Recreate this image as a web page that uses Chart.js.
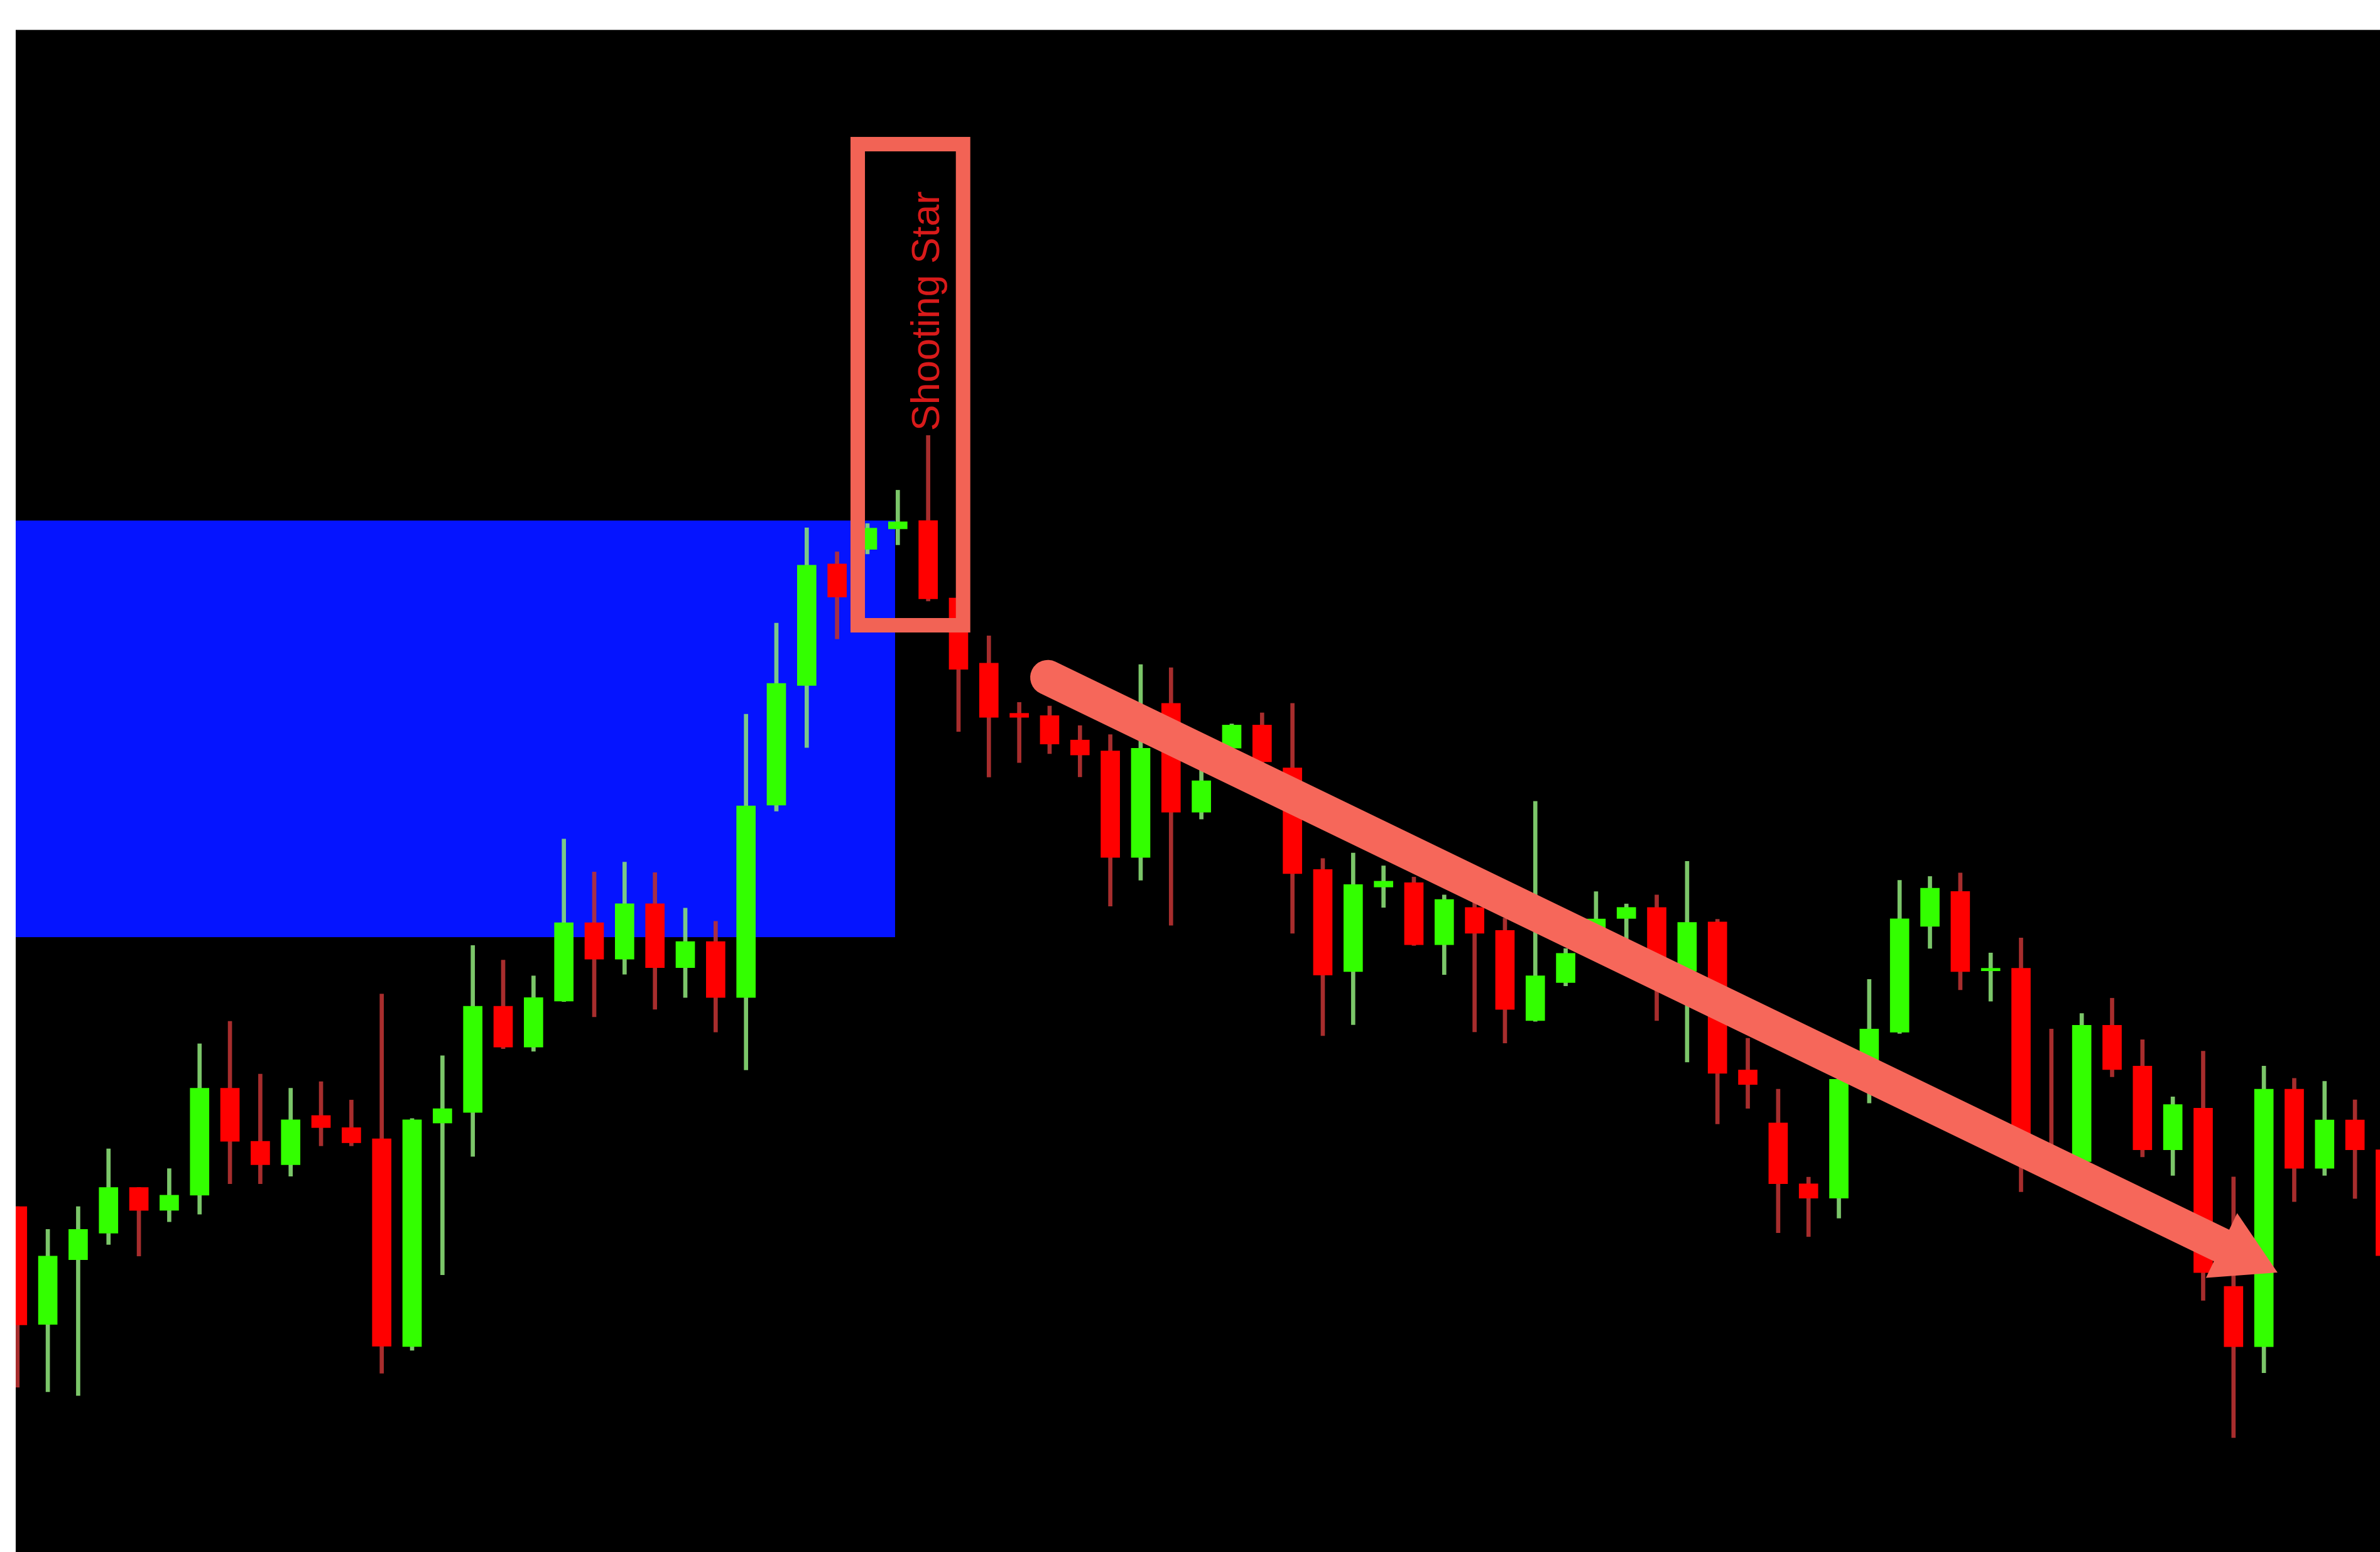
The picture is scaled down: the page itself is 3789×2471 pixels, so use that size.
<!DOCTYPE html>
<html>
<head>
<meta charset="utf-8">
<title>Shooting Star</title>
<script src="https://cdn.jsdelivr.net/npm/chart.js@4.4.1/dist/chart.umd.min.js"></script>
<style>
	html, body { margin: 0; padding: 0; background: #ffffff; }
	canvas { display: block; }
</style>
</head>
<body>
<canvas id="candleChart" width="3789" height="2471"></canvas>
<script>
// daily candles (one entry per session, left to right)
const opens = [
	40.5, 32.73, 37.0, 38.75, 41.76, 40.25, 41.25, 48.3, 44.8, 43.26,
	46.5, 45.7, 44.97, 31.28, 46.0, 46.7, 53.7, 51.0, 54.04, 59.2,
	56.8, 60.45, 56.24, 57.96, 54.27, 66.95, 74.83, 82.84, 83.8, 85.15,
	85.7, 80.6, 76.3, 73.0, 72.85, 71.24, 70.52, 63.5, 73.66, 66.48,
	70.7, 72.23, 69.4, 62.71, 55.98, 61.55, 61.84, 57.75, 60.21, 58.7,
	52.75, 55.26, 58.81, 59.48, 60.21, 56.0, 59.25, 49.5, 46.01, 42.0,
	41.05, 49.7, 51.99, 58.96, 61.26, 56.03, 56.2, 44.2, 43.46, 52.45,
	49.76, 44.24, 46.98, 35.24, 31.27, 48.24, 43.02, 46.21, 44.24,
];
const highs = [
	40.5, 39.0, 40.5, 44.3, 41.76, 43.0, 51.23, 52.7, 49.23, 48.3,
	48.73, 47.52, 54.5, 46.3, 50.44, 57.7, 56.74, 55.7, 64.72, 62.54,
	63.2, 62.5, 60.16, 59.3, 72.94, 78.94, 85.22, 83.64, 85.5, 87.7,
	91.3, 80.7, 78.1, 73.72, 73.48, 72.19, 71.6, 76.21, 76.0, 69.5,
	72.3, 73.03, 73.66, 63.43, 63.8, 62.95, 62.21, 61.03, 61.0, 59.5,
	67.2, 57.5, 61.25, 60.44, 61.03, 63.25, 59.43, 51.59, 48.24, 42.44,
	49.5, 55.47, 62.0, 62.25, 62.48, 57.21, 58.2, 52.2, 53.22, 54.23,
	51.49, 47.73, 50.74, 42.45, 49.76, 48.95, 48.75, 47.53, 45.0,
];
const lows = [
	28.6, 28.3, 28.05, 38.0, 37.24, 39.5, 40.0, 42.0, 42.0, 42.5,
	44.5, 44.5, 29.52, 31.03, 36.0, 43.8, 50.9, 50.73, 54.0, 53.0,
	55.8, 53.5, 54.27, 52.0, 49.5, 66.55, 70.74, 77.9, 83.5, 84.1,
	80.4, 71.8, 68.8, 69.75, 70.34, 68.81, 60.29, 62.0, 59.03, 66.03,
	70.3, 69.0, 58.5, 51.76, 52.48, 60.21, 57.7, 55.78, 52.01, 51.27,
	52.7, 55.04, 58.2, 57.92, 52.75, 50.02, 45.95, 46.97, 38.78, 38.52,
	39.74, 47.32, 51.9, 57.51, 54.78, 54.03, 41.48, 42.2, 43.3, 49.05,
	43.77, 42.55, 34.32, 25.28, 29.55, 40.82, 42.55, 41.03, 37.0,
];
const closes = [
	32.7, 37.24, 39.0, 41.76, 40.25, 41.25, 48.3, 44.8, 43.26, 46.22,
	45.7, 44.7, 31.3, 46.22, 46.95, 53.7, 51.0, 54.27, 59.2, 56.8,
	60.45, 56.24, 57.96, 54.27, 66.9, 74.97, 82.76, 80.66, 85.2, 85.62,
	80.54, 75.9, 72.73, 72.73, 70.97, 70.25, 63.5, 70.7, 66.48, 68.55,
	72.23, 69.8, 62.44, 55.75, 61.72, 61.94, 57.75, 60.73, 58.51, 53.49,
	55.71, 57.18, 59.45, 60.21, 56.0, 59.22, 49.28, 48.54, 42.0, 41.05,
	48.89, 52.2, 59.46, 61.48, 55.98, 56.2, 45.23, 42.4, 52.45, 49.52,
	44.24, 47.22, 36.15, 31.27, 48.24, 43.02, 46.21, 44.24, 37.27,
];

// annotations, in session / price units
const zoneSessions = [-1, 28.91];
const zonePrices = [58.25, 85.7];
const boxSessions = [27.68, 31.15];
const boxPrices = [78.8, 110.5];
const patternLabel = 'Shooting Star';
const labelAt = [30, 99.5];
const arrowFrom = [33.94, 75.36];
const arrowTo = [72.6, 37.94];
const arrowHead = [73.22, 37.34];

const UP_BODY = '#33ff00';
const DOWN_BODY = '#ff0000';
const UP_WICK = 'rgba(140, 225, 120, 0.88)';
const DOWN_WICK = 'rgba(185, 50, 50, 0.9)';
const SALMON = '#f6675a';

const isUp = (i) => closes[i] >= opens[i];

const wickData = lows.map((l, i) => ({ x: i, y: [l, highs[i]] }));
const bodyData = opens.map((o, i) => ({ x: i, y: [o, closes[i]] }));

const backdrop = {
	id: 'backdrop',
	beforeDraw (chart) {
		const { ctx, chartArea: a } = chart;
		ctx.save();
		ctx.fillStyle = '#ffffff';
		ctx.fillRect(0, 0, chart.width, chart.height);
		ctx.fillStyle = '#9a9a9a';
		ctx.fillRect(a.left, a.top - 1, a.right - a.left, 2);
		ctx.fillStyle = '#000000';
		ctx.fillRect(a.left, a.top, a.right - a.left, a.bottom - a.top);
		ctx.restore();
	},
	beforeDatasetsDraw (chart) {
		const { ctx, chartArea: a, scales: { x, y } } = chart;
		ctx.save();
		ctx.beginPath();
		ctx.rect(a.left, a.top, a.right - a.left, a.bottom - a.top);
		ctx.clip();
		const x0 = x.getPixelForValue(zoneSessions[0]);
		const x1 = x.getPixelForValue(zoneSessions[1]);
		const y0 = y.getPixelForValue(zonePrices[1]);
		const y1 = y.getPixelForValue(zonePrices[0]);
		ctx.fillStyle = '#0514ff';
		ctx.fillRect(x0, y0, x1 - x0, y1 - y0);
		ctx.restore();
	},
};

const patternBox = {
	id: 'patternBox',
	afterDatasetsDraw (chart) {
		const { ctx, scales: { x, y } } = chart;
		const x0 = x.getPixelForValue(boxSessions[0]);
		const x1 = x.getPixelForValue(boxSessions[1]);
		const y0 = y.getPixelForValue(boxPrices[1]);
		const y1 = y.getPixelForValue(boxPrices[0]);
		ctx.save();
		ctx.strokeStyle = '#f26355';
		ctx.lineWidth = 23;
		ctx.strokeRect(x0, y0, x1 - x0, y1 - y0);

		ctx.translate(x.getPixelForValue(labelAt[0]), y.getPixelForValue(labelAt[1]));
		ctx.rotate(-Math.PI / 2);
		ctx.font = '63px "Liberation Sans", Arial, sans-serif';
		ctx.fillStyle = '#d81a1a';
		ctx.textAlign = 'center';
		ctx.textBaseline = 'middle';
		ctx.fillText(patternLabel, 0, 0);
		ctx.restore();
	},
};

// point the arrow head along the shaft, in pixel space
const headRotation = (context) => {
	const { x, y } = context.chart.scales;
	const dx = x.getPixelForValue(arrowTo[0]) - x.getPixelForValue(arrowFrom[0]);
	const dy = y.getPixelForValue(arrowTo[1]) - y.getPixelForValue(arrowFrom[1]);
	return Math.atan2(dx, -dy) * 180 / Math.PI;
};

const ctx = document.getElementById('candleChart').getContext('2d');
const chart = new Chart(ctx, {
	type: 'bar',
	data: {
		datasets: [{
			label: 'arrow head',
			type: 'line',
			data: [{ x: arrowHead[0], y: arrowHead[1] }],
			showLine: false,
			pointStyle: 'triangle',
			pointRadius: 66,
			pointBorderWidth: 0,
			pointBackgroundColor: SALMON,
			pointRotation: headRotation,
			order: 0,
		}, {
			label: 'arrow',
			type: 'line',
			data: [{ x: arrowFrom[0], y: arrowFrom[1] }, { x: arrowTo[0], y: arrowTo[1] }],
			borderColor: SALMON,
			borderWidth: 56,
			borderCapStyle: 'round',
			pointRadius: 0,
			fill: false,
			order: 1,
		}, {
			label: 'body',
			data: bodyData,
			backgroundColor: opens.map((o, i) => (isUp(i) ? UP_BODY : DOWN_BODY)),
			barThickness: 30,
			minBarLength: 4,
			borderWidth: 0,
			grouped: false,
			order: 2,
		}, {
			label: 'wick',
			data: wickData,
			backgroundColor: opens.map((o, i) => (isUp(i) ? UP_WICK : DOWN_WICK)),
			barThickness: 6,
			borderWidth: 0,
			grouped: false,
			order: 3,
		}],
	},
	options: {
		responsive: false,
		devicePixelRatio: 1,
		animation: false,
		layout: {
			autoPadding: false,
			padding: { left: 25, top: 48, right: 0, bottom: 0 },
		},
		plugins: {
			legend: { display: false },
			tooltip: { enabled: false },
		},
		scales: {
			x: { type: 'linear', offset: false, min: -0.0575, max: 77.825, display: false },
			y: { type: 'linear', min: 17.74, max: 118.01, display: false },
		},
	},
	plugins: [backdrop, patternBox],
});
</script>
</body>
</html>
